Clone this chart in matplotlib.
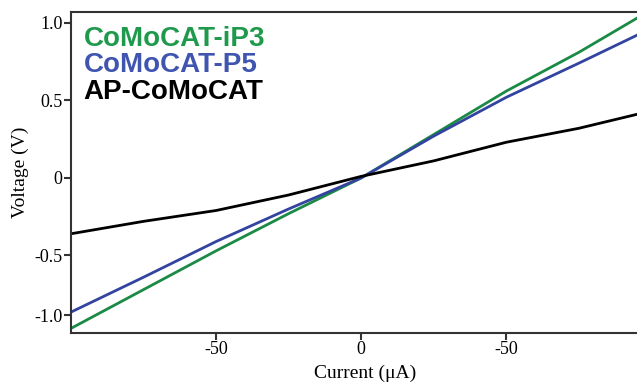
import matplotlib.pyplot as plt

# I-V curves
current = [-100, -75, -50, -25, 0, 25, 50, 75, 95]
v_ip3 = [-0.97, -0.72, -0.47, -0.23, 0.0, 0.28, 0.56, 0.81, 1.03]
v_p5 = [-0.865, -0.64, -0.41, -0.20, 0.0, 0.27, 0.52, 0.74, 0.92]
v_ap = [-0.36, -0.28, -0.21, -0.11, 0.01, 0.11, 0.23, 0.32, 0.41]

names = ["CoMoCAT-iP3", "CoMoCAT-P5", "AP-CoMoCAT"]
colors = ["#1a8a45", "#3344a0", "black"]
text_colors = ["#1f9a4c", "#3f55b0", "black"]
label_y = [0.917, 0.835, 0.752]

x_ticks = [-50, 0, 50]
x_labels = ["-50", "0", "-50"]
y_ticks = [-0.885, -0.5, 0, 0.5, 1.0]
y_labels = ["-1.0", "-0.5", "0", "0.5", "1.0"]

fig = plt.figure(figsize=(6.37, 3.85), dpi=100)
ax = fig.add_axes([0.1115, 0.135, 0.8885, 0.834])

for v, c in zip([v_ip3, v_p5, v_ap], colors):
    ax.plot(current, v, color=c, lw=2.0)

ax.set_xlim(-100, 95)
ax.set_ylim(-1.0, 1.07)

ax.set_xticks(x_ticks)
ax.set_xticklabels(x_labels, family="Liberation Serif", fontsize=13)
ax.set_yticks(y_ticks)
ax.set_yticklabels(y_labels, family="Liberation Serif", fontsize=13)
ax.tick_params(direction="out", length=5, width=1.5, color="#333333", pad=1)

ax.spines["right"].set_visible(False)
for s in ["left", "bottom", "top"]:
    ax.spines[s].set_color("#333333")
    ax.spines[s].set_linewidth(1.5)

ax.set_xlabel("Current (\u03bcA)", family="Liberation Serif", fontsize=14, labelpad=0)
ax.xaxis.set_label_coords(0.52, -0.10)
ax.set_ylabel("Voltage (V)", family="Liberation Serif", fontsize=14, labelpad=4)

for n, c, y in zip(names, text_colors, label_y):
    ax.text(0.022, y, n, transform=ax.transAxes, color=c,
            family="Liberation Sans", fontweight="bold", fontsize=20, va="center")

fig.savefig("out.png", dpi=100)
